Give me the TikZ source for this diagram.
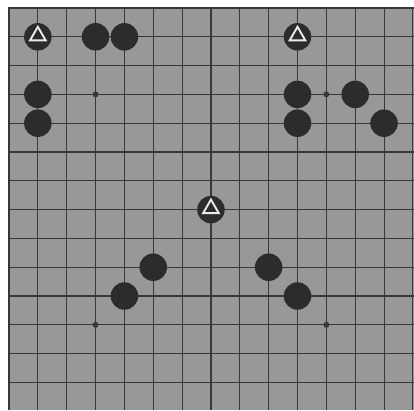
\documentclass[tikz,border=0pt]{standalone}
\usetikzlibrary{shapes.geometric}
\definecolor{boardgray}{HTML}{989898}
\definecolor{linegray}{HTML}{383838}
\definecolor{stonecol}{HTML}{2C2C2C}
\begin{document}
\begin{tikzpicture}[x=1pt,y=-1pt,
  stone/.style={circle,fill=stonecol,inner sep=0pt,minimum size=27.5pt},
  starpt/.style={circle,fill=linegray,inner sep=0pt,minimum size=6pt},
  gridline/.style={linegray,line width=1.1pt},
  tri/.style={regular polygon,regular polygon sides=3,draw=white!92!black,line width=1.9pt,inner sep=0pt,minimum size=18pt}]
\useasboundingbox (0,0) rectangle (414,410);
\fill[white] (0,0) rectangle (414,410);
\fill[boardgray] (9,8) rectangle (414,410);
% grid
\foreach \k in {1,...,14} {
  \draw[gridline] ({9+28.85*\k},8) -- ({9+28.85*\k},410);
  \draw[gridline] (9,{8+28.8*\k}) -- (414,{8+28.8*\k});
}
\draw[linegray,line width=1.8pt] (414,8) -- (9,8) -- (9,410);
% star points
\foreach \i/\j [count=\n] in {3/3,11/3,3/11,11/11} {
  \node[starpt] (star\n) at ({9+28.85*\i},{8+28.8*\j}) {};
}
% stones
\foreach \i/\j [count=\n] in {1/1,3/1,4/1,10/1,1/3,1/4,10/3,12/3,10/4,13/4,7/7,5/9,4/10,9/9,10/10} {
  \node[stone] (s\n) at ({9+28.85*\i},{8+28.8*\j}) {};
}
% triangle marks
\node[tri] (t1) at ([yshift=1pt]s1) {};
\node[tri] (t2) at ([yshift=1pt]s4) {};
\node[tri] (t3) at ([yshift=1pt]s11) {};
\end{tikzpicture}
\end{document}
